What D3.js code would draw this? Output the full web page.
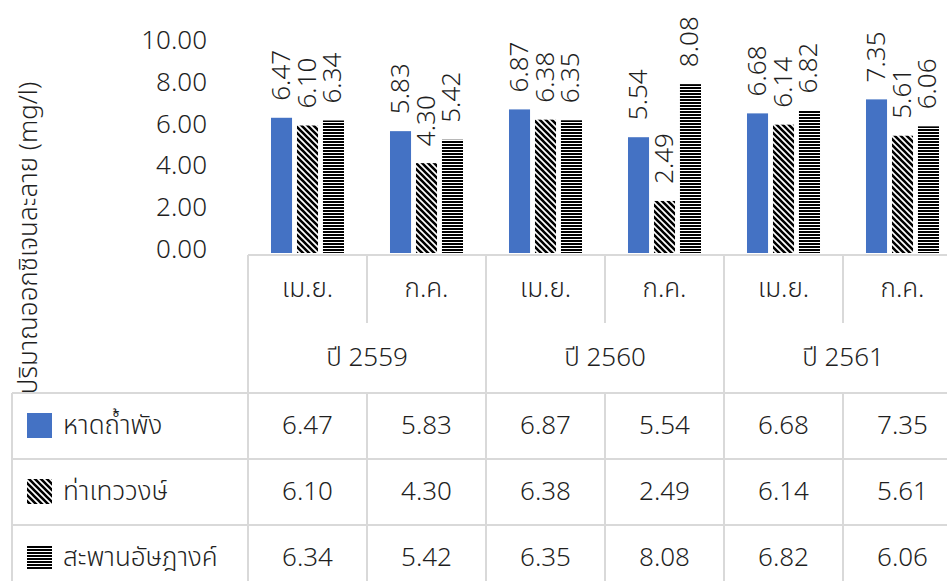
<!DOCTYPE html>
<html>
<head>
<meta charset="utf-8">
<script src="https://cdn.jsdelivr.net/npm/d3@7"></script>
<style>
  html, body { margin: 0; padding: 0; background: #fff; }
  svg { display: block; }
  text { font-family: "Noto Sans Thai", "Noto Sans", sans-serif; fill: #1f1f1f; }
</style>
</head>
<body>
<svg id="chart" width="947" height="581"></svg>
<script>
// Dissolved oxygen (mg/l) at three stations, April / July of 2559–2561
const years = ["ปี 2559", "ปี 2560", "ปี 2561"];
const months = ["เม.ย.", "ก.ค.", "เม.ย.", "ก.ค.", "เม.ย.", "ก.ค."];
const seriesNames = ["หาดถ้ำพัง", "ท่าเทววงษ์", "สะพานอัษฎางค์"];
const hadThamPhang = [6.47, 5.83, 6.87, 5.54, 6.68, 7.35];
const thaThewawong = [6.10, 4.30, 6.38, 2.49, 6.14, 5.61];
const saphanAtsadang = [6.34, 5.42, 6.35, 8.08, 6.82, 6.06];
const yTicks = [0, 2, 4, 6, 8, 10];
const yTitle = "ปริมาณออกซิเจนละลาย (mg/l)";

const seriesValues = [hadThamPhang, thaThewawong, saphanAtsadang];
const categories = months.map((m, i) => years[Math.floor(i / 2)] + "|" + m);

const svg = d3.select("#chart");
const FONT = 26;

// patterns for the two hatched series
const defs = svg.append("defs");
const diag = defs.append("pattern").attr("id", "pat-diag")
  .attr("patternUnits", "userSpaceOnUse").attr("width", 6).attr("height", 6);
diag.append("rect").attr("width", 6).attr("height", 6).attr("fill", "#fff");
diag.append("path").attr("d", "M0,0 L6,6 M-1,5 L1,7 M5,-1 L7,1")
  .attr("stroke", "#000").attr("stroke-width", 2.6);
const horiz = defs.append("pattern").attr("id", "pat-horiz")
  .attr("patternUnits", "userSpaceOnUse").attr("width", 4).attr("height", 3);
horiz.append("rect").attr("width", 4).attr("height", 3).attr("fill", "#fff");
horiz.append("rect").attr("width", 4).attr("height", 2).attr("fill", "#000");

const fills = ["#4472C4", "url(#pat-diag)", "url(#pat-horiz)"];

// scales
const x = d3.scaleBand().domain(categories).range([248, 962]).padding(0);
const xs = d3.scaleBand().domain(d3.range(seriesNames.length))
  .range([0, x.bandwidth()]).paddingInner(0.19).paddingOuter(0.885);
const y = d3.scaleLinear().domain([0, 10]).range([253, 44]);

// y tick labels
svg.append("g").selectAll("text").data(yTicks).join("text")
  .attr("x", 207).attr("y", d => y(d) - 3)
  .attr("text-anchor", "end").attr("dominant-baseline", "central")
  .attr("font-size", FONT).attr("font-weight", 300)
  .text(d => d3.format(".2f")(d));

// y axis title
svg.append("text")
  .attr("transform", `translate(29,238) rotate(-90)`)
  .attr("text-anchor", "middle").attr("dominant-baseline", "central")
  .attr("font-size", 26).attr("font-weight", 300)
  .text(yTitle);

// bars
const groups = svg.append("g").selectAll("g").data(categories).join("g")
  .attr("transform", d => `translate(${x(d)},0)`);
groups.selectAll("rect").data((d, i) => seriesValues.map((vals, s) => ({ s, v: vals[i] })))
  .join("rect")
  .attr("x", d => xs(d.s)).attr("width", xs.bandwidth())
  .attr("y", d => y(d.v)).attr("height", d => y(0) - y(d.v))
  .attr("fill", d => fills[d.s]);

// value labels above bars, rotated
groups.selectAll("text").data((d, i) => seriesValues.map((vals, s) => ({ s, v: vals[i] })))
  .join("text")
  .attr("transform", d => `translate(${xs(d.s) + xs.bandwidth() / 2},${y(d.v) - 17}) rotate(-90)`)
  .attr("text-anchor", "start").attr("dominant-baseline", "central")
  .attr("font-size", FONT).attr("font-weight", 300)
  .text(d => d3.format(".2f")(d.v));

// data table
const grid = svg.append("g").attr("stroke", "#d9d9d9").attr("stroke-width", 2);
const tTop = 255, tMonth = 323, tYear = 393, rowH = 66;
const tLeft = 12, tRight = 962;
const rowLines = d3.range(seriesNames.length + 1).map(k => tYear + k * rowH);

grid.append("line").attr("x1", x.range()[0]).attr("x2", tRight).attr("y1", tTop).attr("y2", tTop);
rowLines.forEach(yy => grid.append("line").attr("x1", tLeft).attr("x2", tRight).attr("y1", yy).attr("y2", yy));
grid.append("line").attr("x1", tLeft).attr("x2", tLeft).attr("y1", tYear).attr("y2", rowLines[rowLines.length - 1]);
categories.forEach((c, i) => {
  const xx = x(c);
  if (i % 2 === 0) {
    grid.append("line").attr("x1", xx).attr("x2", xx).attr("y1", tTop).attr("y2", rowLines[rowLines.length - 1]);
  } else {
    grid.append("line").attr("x1", xx).attr("x2", xx).attr("y1", tTop).attr("y2", tMonth);
    grid.append("line").attr("x1", xx).attr("x2", xx).attr("y1", tYear).attr("y2", rowLines[rowLines.length - 1]);
  }
});
grid.append("line").attr("x1", tRight).attr("x2", tRight).attr("y1", tTop).attr("y2", rowLines[rowLines.length - 1]);

// month and year headers
svg.append("g").selectAll("text").data(categories).join("text")
  .attr("x", d => x(d) + x.bandwidth() / 2).attr("y", (tTop + tMonth) / 2)
  .attr("text-anchor", "middle").attr("dominant-baseline", "central")
  .attr("font-size", FONT).attr("font-weight", 300)
  .text((d, i) => months[i]);
svg.append("g").selectAll("text").data(years).join("text")
  .attr("x", (d, i) => x(categories[i * 2]) + x.bandwidth())
  .attr("y", (tMonth + tYear) / 2)
  .attr("text-anchor", "middle").attr("dominant-baseline", "central")
  .attr("font-size", FONT).attr("font-weight", 300)
  .text(d => d);

// legend keys and value rows
seriesNames.forEach((name, s) => {
  const cy = rowLines[s] + rowH / 2;
  svg.append("rect").attr("x", 27).attr("y", cy - 13).attr("width", 25).attr("height", 25)
    .attr("fill", fills[s]);
  svg.append("text").attr("x", 63).attr("y", cy).attr("dominant-baseline", "central")
    .attr("font-size", FONT).attr("font-weight", 300).text(name);
  svg.append("g").selectAll("text").data(seriesValues[s]).join("text")
    .attr("x", (d, i) => x(categories[i]) + x.bandwidth() / 2).attr("y", cy)
    .attr("text-anchor", "middle").attr("dominant-baseline", "central")
    .attr("font-size", FONT).attr("font-weight", 300)
    .text(d => d3.format(".2f")(d));
});
</script>
</body>
</html>
